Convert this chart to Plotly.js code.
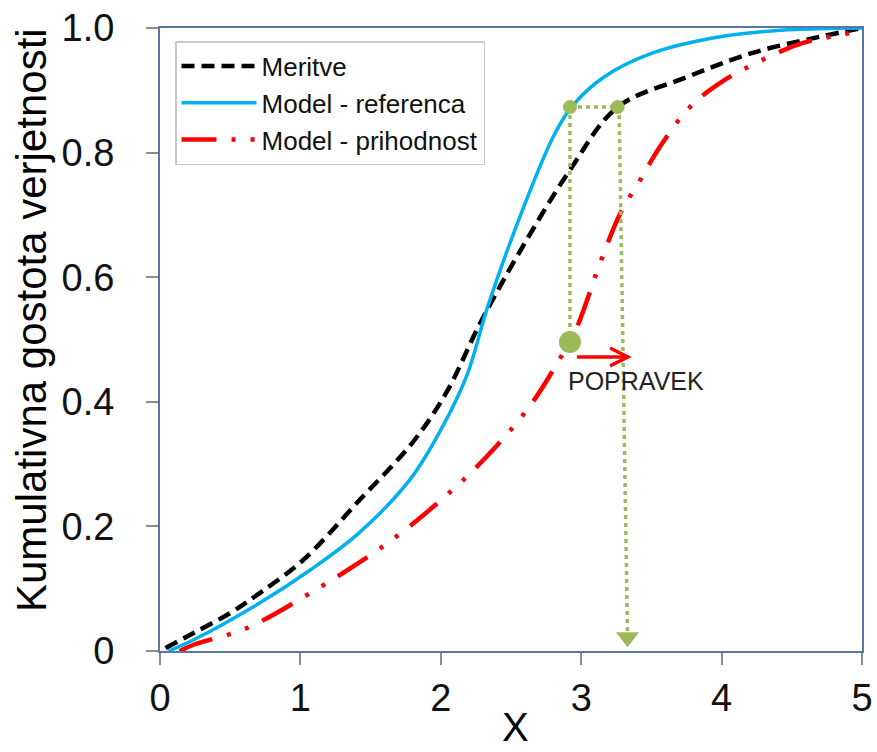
<!DOCTYPE html>
<html>
<head>
<meta charset="utf-8">
<script src="https://cdn.plot.ly/plotly-3.0.1.min.js"></script>
<style>html,body{margin:0;padding:0;background:#fff;}#chart{width:877px;height:752px;}</style>
</head>
<body>
<div id="chart"></div>
<script>
// ---- data ----
const meritveX = [0.04, 0.24, 0.5, 0.71, 1.02, 1.42, 1.8, 2.04, 2.28, 2.56, 2.92, 3.26, 3.75, 4.22, 4.7, 5.0];
const meritveY = [0.005, 0.029, 0.061, 0.093, 0.146, 0.242, 0.335, 0.415, 0.526, 0.64, 0.772, 0.873, 0.921, 0.96, 0.986, 1.0];

const referencaX = [0.06, 0.24, 0.71, 1.07, 1.42, 1.78, 2.0, 2.19, 2.33, 2.56, 2.8, 2.93, 3.16, 3.51, 3.99, 4.47, 5.0];
const referencaY = [0, 0.018, 0.077, 0.13, 0.19, 0.275, 0.355, 0.445, 0.55, 0.695, 0.825, 0.873, 0.921, 0.96, 0.986, 0.997, 1.0];

const prihodnostX = [0.14, 0.24, 0.62, 1.07, 1.62, 2.09, 2.4, 2.64, 2.85, 2.97, 3.13, 3.28, 3.42, 3.56, 3.77, 3.99, 4.32, 4.58, 4.94, 5.0];
const prihodnostY = [0, 0.01, 0.037, 0.093, 0.173, 0.26, 0.33, 0.395, 0.47, 0.52, 0.62, 0.703, 0.756, 0.809, 0.872, 0.912, 0.952, 0.976, 0.994, 1.0];

// correction illustration
const pointsX = [2.92, 3.26];
const pointsY = [0.873, 0.873];
const leftDropX = [2.92, 2.92];
const leftDropY = [0.873, 0.496];
const rightDropX = [3.27, 3.33];
const rightDropY = [0.873, 0.02];
const startX = [2.92];
const startY = [0.496];
const arrowTipX = [3.33];
const arrowTipY = [0.022];
const corrFromX = 2.96, corrToX = 3.36, corrY = 0.472;
const corrLabel = 'POPRAVEK';
const corrLabelX = 3.39, corrLabelY = 0.433;

const xTicks = [0, 1, 2, 3, 4, 5];
const xTickText = ['0', '1', '2', '3', '4', '5'];
const yTicks = [0, 0.2, 0.4, 0.6, 0.8, 1.0];
const yTickText = ['0', '0.2', '0.4', '0.6', '0.8', '1.0'];

const xTitle = 'X';
const yTitle = 'Kumulativna gostota verjetnosti';
const names = ['Meritve', 'Model - referenca', 'Model - prihodnost'];

const GREEN = '#9bbb59';
const FONT = 'Liberation Sans, Arial, sans-serif';

const traces = [
  {x: meritveX, y: meritveY, name: names[0], mode: 'lines',
   line: {color: '#000000', width: 4.5, dash: '13px,7px', shape: 'spline', smoothing: 1}},
  {x: referencaX, y: referencaY, name: names[1], mode: 'lines',
   line: {color: '#00b0f0', width: 3.5, shape: 'spline', smoothing: 1}},
  {x: prihodnostX, y: prihodnostY, name: names[2], mode: 'lines',
   line: {color: '#ff0000', width: 4.5, dash: '35px,15px,4px,15px,4px,15px', shape: 'spline', smoothing: 1}},
  // green dotted construction lines
  {x: leftDropX, y: leftDropY, mode: 'lines', showlegend: false, hoverinfo: 'skip',
   line: {color: GREEN, width: 3.5, dash: '4px,4px'}},
  {x: pointsX, y: pointsY, mode: 'lines', showlegend: false, hoverinfo: 'skip',
   line: {color: GREEN, width: 3.5, dash: '4px,4px'}},
  {x: rightDropX, y: rightDropY, mode: 'lines', showlegend: false, hoverinfo: 'skip',
   line: {color: GREEN, width: 3.5, dash: '4px,4px'}},
  {x: pointsX, y: pointsY, mode: 'markers', showlegend: false, hoverinfo: 'skip',
   marker: {color: GREEN, size: 14}},
  {x: startX, y: startY, mode: 'markers', showlegend: false, hoverinfo: 'skip',
   marker: {color: GREEN, size: 22}},
  {x: arrowTipX, y: arrowTipY, mode: 'markers', showlegend: false, hoverinfo: 'skip', cliponaxis: false,
   marker: {color: GREEN, size: 20, symbol: 'triangle-down'}}
];

const axisCommon = {
  showgrid: false, zeroline: false,
  showline: true, linecolor: '#5877a3', linewidth: 2, mirror: true,
  ticks: 'outside', ticklen: 12, tickwidth: 2, tickcolor: '#8c8c8c',
  tickfont: {family: FONT, size: 38, color: '#111111'}
};

const layout = {
  width: 877, height: 752,
  margin: {l: 160, r: 15, t: 28, b: 101},
  paper_bgcolor: '#ffffff', plot_bgcolor: '#ffffff',
  font: {family: FONT, color: '#111111'},
  xaxis: Object.assign({}, axisCommon, {range: [0, 5], tickmode: 'array', tickvals: xTicks, ticktext: xTickText}),
  yaxis: Object.assign({}, axisCommon, {range: [0, 1], tickmode: 'array', tickvals: yTicks, ticktext: yTickText, ticklabelstandoff: 24}),
  legend: {x: 0.0214, y: 0.979, xanchor: 'left', yanchor: 'top',
           bgcolor: '#ffffff', bordercolor: '#c8c8c8', borderwidth: 1.5,
           font: {family: FONT, size: 26, color: '#111111'}, itemwidth: 75},
  showlegend: true,
  annotations: [
    {x: corrToX, y: corrY, ax: corrFromX, ay: corrY, axref: 'x', ayref: 'y', xref: 'x', yref: 'y',
     text: '', showarrow: true, arrowhead: 5, arrowsize: 1, arrowwidth: 3.5, arrowcolor: '#ff0000'},
    {x: corrLabelX, y: corrLabelY, xref: 'x', yref: 'y', text: corrLabel, showarrow: false,
     font: {family: FONT, size: 25, color: '#222222'}},
    {x: -0.184, y: 0.531, xref: 'paper', yref: 'paper', text: yTitle, textangle: -90, showarrow: false,
     xanchor: 'center', yanchor: 'middle', font: {family: FONT, size: 42, color: '#000000'}},
    {x: 0.507, y: -0.161, xref: 'paper', yref: 'paper', text: xTitle, showarrow: false,
     xanchor: 'center', yanchor: 'bottom', font: {family: FONT, size: 40, color: '#000000'}}
  ]
};

Plotly.newPlot('chart', traces, layout, {displayModeBar: false, staticPlot: true});
</script>
</body>
</html>
